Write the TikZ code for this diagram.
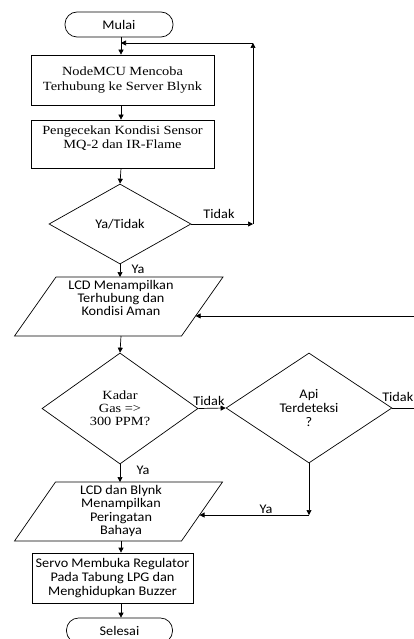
\documentclass[tikz,border=0pt]{standalone}
\usepackage{fontspec}
\setmainfont{Liberation Serif}[FakeStretch=1.15]
\newfontfamily\calfont{Carlito}[FakeStretch=1.08]
\usetikzlibrary{shapes.geometric,arrows.meta,calc}
\begin{document}
\begin{tikzpicture}[x=1pt,y=-1pt,
  base/.style={draw=black, line width=0.7pt, inner sep=0pt, align=center, text=black},
  serif/.style={font=\fontsize{12.5}{14.2}\selectfont},
  sans/.style={font=\calfont\fontsize{13.2}{14.2}\selectfont},
  term/.style={base, sans, rectangle, rounded corners=12pt, minimum width=108pt, minimum height=25pt},
  proc/.style={base, rectangle, minimum width=183pt, minimum height=50pt},
  dec/.style={base, diamond},
  shapeline/.style={draw=black, line width=0.7pt},
  txt/.style={inner sep=0pt, align=center, text=black},
  lab/.style={sans, inner sep=0pt, text=black},
  arr/.style={draw=black, line width=0.7pt, -{Triangle[length=5pt,width=5pt]}},
]
\useasboundingbox (0,0) rectangle (414,639);
% nodes
\node[term] (m) at (119,24.5) {Mulai};
\node[proc, serif] (b1) at (122.5,80) {NodeMCU Mencoba\\Terhubung ke Server Blynk};
\node[proc, minimum height=48pt] (b2) at (122.5,144) {};
\node[txt, serif] (b2t) at (122.5,138.5) {Pengecekan Kondisi Sensor\\MQ-2 dan IR-Flame};
\node[dec, sans, minimum width=142pt, minimum height=80pt] (d1) at (120,224) {Ya/Tidak};
% parallelogram 1
\coordinate (p1tl) at (56,277);
\coordinate (p1tr) at (223,277);
\coordinate (p1br) at (181.5,336);
\coordinate (p1bl) at (14.5,336);
\draw[shapeline] (p1bl) -- (p1br) -- (p1tr) -- (p1tl) -- cycle;
\node[txt, sans, font=\calfont\fontsize{13.2}{12.9}\selectfont] (p1t) at (121,298) {LCD Menampilkan\\Terhubung dan\\Kondisi Aman};
\node[dec, serif, minimum width=156pt, minimum height=111pt, font=\fontsize{12.5}{12.8}\selectfont] (d2) at (120,408.5) {Kadar\\Gas =>\\300 PPM?};
\node[dec, sans, minimum width=166pt, minimum height=110pt] (d3) at (309,408) {Api\\Terdeteksi\\?};
% parallelogram 2
\coordinate (p2tl) at (55.5,482);
\coordinate (p2tr) at (222.5,482);
\coordinate (p2br) at (181.5,541);
\coordinate (p2bl) at (14.5,541);
\draw[shapeline] (p2bl) -- (p2br) -- (p2tr) -- (p2tl) -- cycle;
\node[txt, sans, font=\calfont\fontsize{13.2}{13.4}\selectfont] (p2t) at (121,511) {LCD dan Blynk\\Menampilkan\\Peringatan\\Bahaya};
\node[proc, sans, minimum width=161pt] (b3) at (112.5,578) {Servo Membuka Regulator\\Pada Tabung LPG dan\\Menghidupkan Buzzer};
\node[term, minimum width=106pt] (s) at (119.5,630.5) {Selesai};
% helper coordinates
\coordinate (ax) at (121,0);
\coordinate (loopR) at (253,43);
\coordinate (loopB) at (loopR |- d1.east);
\coordinate (c1) at ($(p1br)!0.34!(p1tr)$);
\coordinate (c2) at ($(p2br)!0.44!(p2tr)$);
\coordinate (c3) at (d3.south |- c2);
% connectors
\draw[arr] (m.south -| ax) -- (b1.north -| ax);
\draw[arr] (b1.south -| ax) -- (b2.north -| ax);
\draw[arr] (b2.south -| ax) -- (d1.north);
\draw[arr] (d1.east) -- (loopB);
\draw[arr] (loopB) -- (loopR);
\draw[arr] (loopR) -- (loopR -| ax);
\draw[arr] (d1.south) -- (p1tl -| d1.south);
\draw[arr] (p1bl -| ax) -- (d2.north);
\draw[arr] (d2.east) -- (d3.west);
\draw[arr] (d3.east) -- ++(40,0) |- (c1);
\draw[arr] (d2.south) -- (p2tl -| d2.south);
\draw[arr] (d3.south) -- (c3);
\draw[arr] (c3) -- (c2);
\draw[arr] (p2bl -| ax) -- (b3.north -| ax);
\draw[arr] (b3.south -| ax) -- (s.north -| ax);
% labels
\node[lab] (l1) at (219,214) {Tidak};
\node[lab] (l2) at (138,269) {Ya};
\node[lab] (l3) at (209,401) {Tidak};
\node[lab, anchor=east] (l4) at (413.5,397) {Tidak};
\node[lab] (l5) at (143,470) {Ya};
\node[lab] (l6) at (266,509) {Ya};
\end{tikzpicture}
\end{document}
